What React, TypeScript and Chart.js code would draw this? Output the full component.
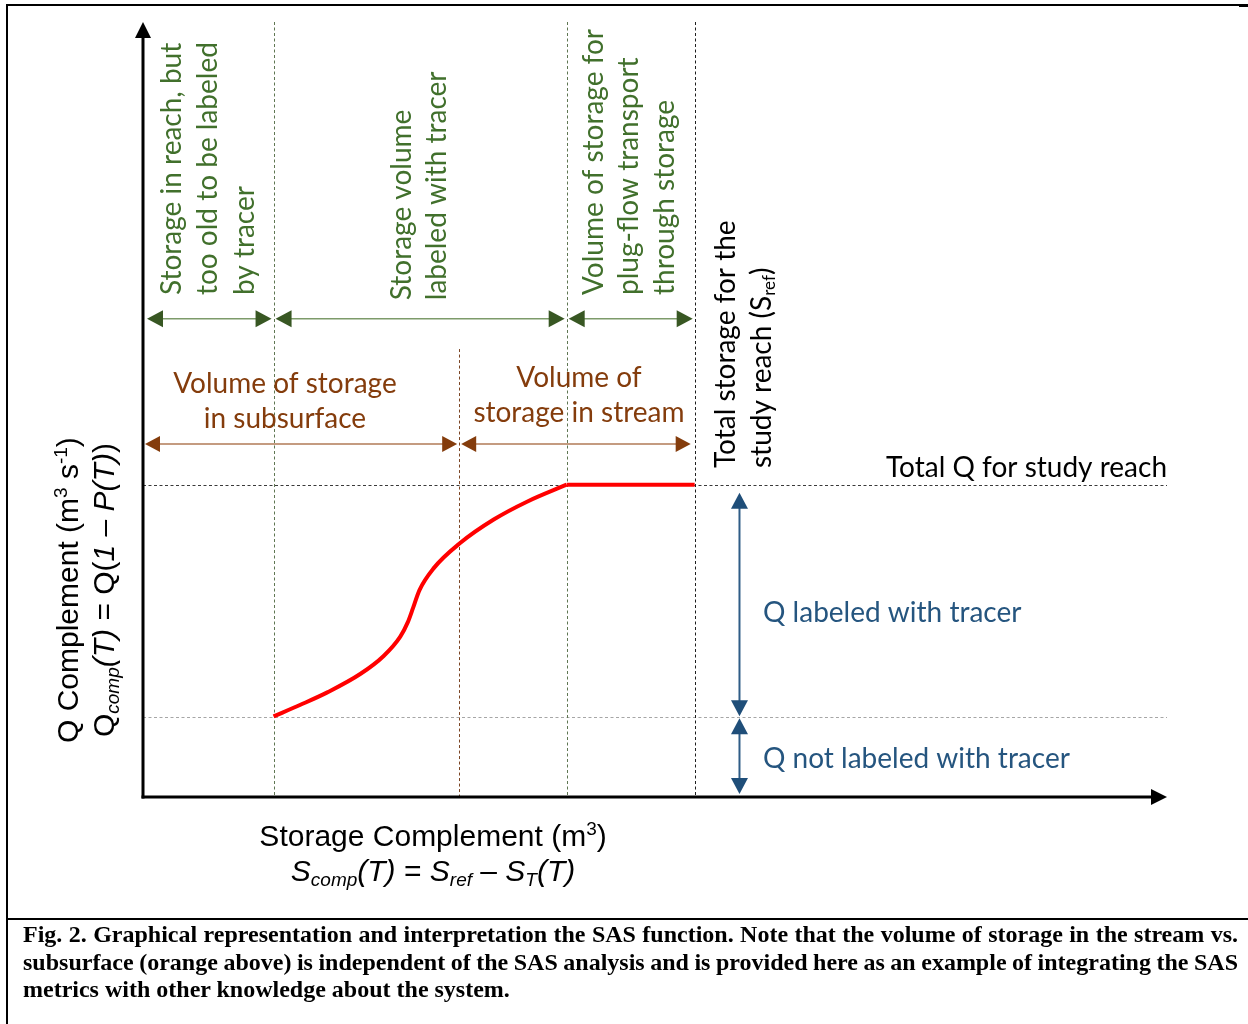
import React, { useEffect, useMemo, useRef } from "react";
import { Chart, registerables } from "chart.js";

Chart.register(...registerables);

// ---------- data ----------
// storage complement (x) and Q complement (y) of the SAS curve, arbitrary units
const curveS = [1.02, 1.23, 1.44, 1.7, 1.88, 2.01, 2.07, 2.11, 2.16, 2.27, 2.48, 2.74, 3.0, 3.31];
const curveQ = [1.04, 1.19, 1.35, 1.59, 1.82, 2.07, 2.26, 2.44, 2.67, 2.95, 3.28, 3.58, 3.81, 4.03];
// plateau of the curve (plug-flow part up to S_ref)
const plateauS = [3.31, 4.31];
const plateauQ = [4.03, 4.03];
// storage boundaries: too-old limit, subsurface/stream split, plug-flow limit, S_ref
const sBounds = [1.02, 2.47, 3.31, 4.31];
// Q levels: not-labeled limit, total Q
const qLevels = [1.03, 4.03];
// axis extents (x, y)
const axisMax = [8, 10];

const oldLabel = ["Storage in reach, but", "too old to be labeled", "by tracer"];
const tracerLabel = ["Storage volume", "labeled with tracer"];
const plugLabel = ["Volume of storage for", "plug-flow transport", "through storage"];
const subsurfaceLabel = ["Volume of storage", "in subsurface"];
const streamLabel = ["Volume of", "storage in stream"];
const srefLabel = ["Total storage for the", "study reach (S", "ref", ")"];
const totalQLabel = "Total Q for study reach";
const qLabeledLabel = "Q labeled with tracer";
const qNotLabeledLabel = "Q not labeled with tracer";
const captionLines = [
  "Fig. 2. Graphical representation and interpretation the SAS function. Note that the volume of storage in the stream vs.",
  "subsurface (orange above) is independent of the SAS analysis and is provided here as an example of integrating the SAS",
  "metrics with other knowledge about the system.",
];

// ---------- drawing helpers ----------
type Seg = { t: string; it?: boolean; sub?: boolean; sup?: boolean };
const SANS = '"Liberation Sans", Arial, sans-serif';
const CAL = 'Lato, "Open Sans", sans-serif';
const SERIF = '"Liberation Serif", "Times New Roman", serif';

function segFont(s: Seg, size: number, fam: string) {
  const sz = s.sub || s.sup ? Math.round(size * 0.62) : size;
  return `${s.it ? "italic " : ""}${sz}px ${fam}`;
}

function drawRich(ctx: CanvasRenderingContext2D, segs: Seg[], x: number, y: number, size: number, fam: string, align: string) {
  let w = 0;
  for (const s of segs) {
    ctx.font = segFont(s, size, fam);
    w += ctx.measureText(s.t).width;
  }
  let cx = align === "center" ? x - w / 2 : align === "right" ? x - w : x;
  ctx.textAlign = "left";
  ctx.textBaseline = "middle";
  for (const s of segs) {
    ctx.font = segFont(s, size, fam);
    const dy = s.sub ? size * 0.27 : s.sup ? -size * 0.27 : 0;
    ctx.fillText(s.t, cx, y + dy);
    cx += ctx.measureText(s.t).width;
  }
}

function drawRotated(ctx: CanvasRenderingContext2D, segs: Seg[], x: number, y: number, size: number, fam: string, align: string) {
  ctx.save();
  ctx.translate(x, y);
  ctx.rotate(-Math.PI / 2);
  drawRich(ctx, segs, 0, 0, size, fam, align);
  ctx.restore();
}

function head(ctx: CanvasRenderingContext2D, tx: number, ty: number, dx: number, dy: number, len: number, hw: number) {
  const bx = tx - dx * len;
  const by = ty - dy * len;
  ctx.beginPath();
  ctx.moveTo(tx, ty);
  ctx.lineTo(bx - dy * hw, by + dx * hw);
  ctx.lineTo(bx + dy * hw, by - dx * hw);
  ctx.closePath();
  ctx.fill();
}

function dblArrow(
  ctx: CanvasRenderingContext2D,
  x1: number, y1: number, x2: number, y2: number,
  headColor: string, lineColor: string, lw: number, len: number, hw: number
) {
  const L = Math.hypot(x2 - x1, y2 - y1);
  const dx = (x2 - x1) / L;
  const dy = (y2 - y1) / L;
  ctx.setLineDash([]);
  ctx.strokeStyle = lineColor;
  ctx.lineWidth = lw;
  ctx.beginPath();
  ctx.moveTo(x1 + dx * len * 0.7, y1 + dy * len * 0.7);
  ctx.lineTo(x2 - dx * len * 0.7, y2 - dy * len * 0.7);
  ctx.stroke();
  ctx.fillStyle = headColor;
  head(ctx, x2, y2, dx, dy, len, hw);
  head(ctx, x1, y1, -dx, -dy, len, hw);
}

function dashed(ctx: CanvasRenderingContext2D, x1: number, y1: number, x2: number, y2: number, color: string) {
  ctx.strokeStyle = color;
  ctx.lineWidth = 1;
  ctx.setLineDash([3, 2.5]);
  ctx.beginPath();
  ctx.moveTo(x1, y1);
  ctx.lineTo(x2, y2);
  ctx.stroke();
}

const diagramPlugin = {
  id: "sasDiagram",
  beforeDatasetsDraw(chart: any) {
    const ctx: CanvasRenderingContext2D = chart.ctx;
    const xs = chart.scales.x;
    const ys = chart.scales.y;
    const X = (v: number) => xs.getPixelForValue(v);
    const Y = (v: number) => ys.getPixelForValue(v);
    const [xMax, yMax] = axisMax;
    ctx.save();
    dashed(ctx, X(0), Math.round(Y(qLevels[1])) + 0.5, X(xMax), Math.round(Y(qLevels[1])) + 0.5, "#3a3a3a");
    dashed(ctx, X(0), Math.round(Y(qLevels[0])) + 0.5, X(xMax), Math.round(Y(qLevels[0])) + 0.5, "#a6a6a6");
    const vColors = ["#5f7652", "#7b4524", "#5f7652", "#1e1e1e"];
    sBounds.forEach((b, i) => {
      const px = Math.round(X(b)) + 0.5;
      const top = i === 1 ? Y(5.78) : Y(yMax);
      dashed(ctx, px, top, px, Y(0), vColors[i]);
    });
    ctx.restore();
  },
  afterDatasetsDraw(chart: any) {
    const ctx: CanvasRenderingContext2D = chart.ctx;
    const xs = chart.scales.x;
    const ys = chart.scales.y;
    const X = (v: number) => xs.getPixelForValue(v);
    const Y = (v: number) => ys.getPixelForValue(v);
    const [xMax, yMax] = axisMax;
    ctx.save();

    // ---- axes with arrowheads ----
    ctx.setLineDash([]);
    ctx.strokeStyle = "#000";
    ctx.fillStyle = "#000";
    ctx.lineWidth = 3;
    ctx.beginPath();
    ctx.moveTo(X(0), Y(0) + 1.5);
    ctx.lineTo(X(0), Y(yMax) + 12);
    ctx.stroke();
    head(ctx, X(0), Y(yMax), 0, -1, 16, 8);
    ctx.beginPath();
    ctx.moveTo(X(0) - 1.5, Y(0));
    ctx.lineTo(X(xMax) - 12, Y(0));
    ctx.stroke();
    head(ctx, X(xMax), Y(0), 1, 0, 16, 8);

    // ---- green storage arrows ----
    const GREEN_H = "#385723";
    const GREEN_L = "#7d9b6a";
    const gy = Y(6.17);
    const greenSegs = [
      [0, sBounds[0]],
      [sBounds[0], sBounds[2]],
      [sBounds[2], sBounds[3]],
    ];
    greenSegs.forEach(([a, b]) => {
      dblArrow(ctx, X(a) + (a === 0 ? 4 : 2), gy, X(b) - 2, gy, GREEN_H, GREEN_L, 1.5, 16, 8.5);
    });

    // ---- brown subsurface/stream arrows ----
    const BROWN = "#843c0c";
    const by = Y(4.555);
    dblArrow(ctx, X(0) + 2, by, X(sBounds[1]) - 2, by, BROWN, "#b07a56", 1.5, 15, 8);
    dblArrow(ctx, X(sBounds[1]) + 2, by, X(sBounds[3]) - 4, by, BROWN, "#b07a56", 1.5, 15, 8);

    // ---- blue Q arrows ----
    const BLUE = "#1f4e79";
    const bx = X(4.66);
    dblArrow(ctx, bx, Y(qLevels[1]) + 8, bx, Y(qLevels[0]) - 1, BLUE, "#2f5d87", 2, 16, 8.5);
    dblArrow(ctx, bx, Y(qLevels[0]) + 1, bx, Y(0) - 3, BLUE, "#2f5d87", 2, 16, 8.5);

    // ---- green rotated labels ----
    ctx.fillStyle = "#41702c";
    const gSize = 28;
    const oldX = [0.227, 0.508, 0.797];
    oldLabel.forEach((l, i) => drawRotated(ctx, [{ t: l }], X(oldX[i]), Y(6.477), gSize, CAL, "left"));
    const trX = [2.02, 2.3];
    tracerLabel.forEach((l, i) => drawRotated(ctx, [{ t: l }], X(trX[i]), Y(6.41), gSize, CAL, "left"));
    const plX = [3.52, 3.8, 4.08];
    plugLabel.forEach((l, i) => drawRotated(ctx, [{ t: l }], X(plX[i]), Y(6.477), gSize, CAL, "left"));

    // ---- black S_ref label ----
    ctx.fillStyle = "#000";
    drawRotated(ctx, [{ t: srefLabel[0] }], X(4.555), Y(4.245), gSize, CAL, "left");
    drawRotated(ctx, [{ t: srefLabel[1] }, { t: srefLabel[2], sub: true }, { t: srefLabel[3] }], X(4.836), Y(4.245), gSize, CAL, "left");

    // ---- brown labels ----
    ctx.fillStyle = BROWN;
    drawRich(ctx, [{ t: subsurfaceLabel[0] }], X(1.109), Y(5.329), gSize, CAL, "center");
    drawRich(ctx, [{ t: subsurfaceLabel[1] }], X(1.109), Y(4.877), gSize, CAL, "center");
    drawRich(ctx, [{ t: streamLabel[0] }], X(3.406), Y(5.406), gSize, CAL, "center");
    drawRich(ctx, [{ t: streamLabel[1] }], X(3.406), Y(4.955), gSize, CAL, "center");

    // ---- total Q ----
    ctx.fillStyle = "#000";
    drawRich(ctx, [{ t: totalQLabel }], X(xMax), Y(4.245), gSize, CAL, "right");

    // ---- blue labels ----
    ctx.fillStyle = "#25557f";
    drawRich(ctx, [{ t: qLabeledLabel }], X(4.844), Y(2.374), gSize, CAL, "left");
    drawRich(ctx, [{ t: qNotLabeledLabel }], X(4.844), Y(0.49), gSize, CAL, "left");

    // ---- axis titles ----
    ctx.fillStyle = "#000";
    const tSize = 30;
    drawRotated(
      ctx,
      [{ t: "Q Complement (m" }, { t: "3", sup: true }, { t: " s" }, { t: "-1", sup: true }, { t: ")" }],
      X(-0.57), Y(2.67), tSize, SANS, "center"
    );
    drawRotated(
      ctx,
      [{ t: "Q" }, { t: "comp", sub: true, it: true }, { t: "(T)", it: true }, { t: " = Q(" }, { t: "1 \u2013 P(T)", it: true }, { t: ")" }],
      X(-0.289), Y(2.67), tSize, SANS, "center"
    );
    drawRich(
      ctx,
      [{ t: "Storage Complement (m" }, { t: "3", sup: true }, { t: ")" }],
      X(2.266), Y(-0.529), tSize, SANS, "center"
    );
    drawRich(
      ctx,
      [
        { t: "S", it: true }, { t: "comp", sub: true, it: true }, { t: "(T)", it: true }, { t: " = " },
        { t: "S", it: true }, { t: "ref", sub: true, it: true }, { t: " \u2013 " },
        { t: "S", it: true }, { t: "T", sub: true, it: true }, { t: "(T)", it: true },
      ],
      X(2.266), Y(-0.98), tSize, SANS, "center"
    );

    ctx.restore();
  },
};

const CAPTION_WIDTH = 1215;

export default function App() {
  const ref = useRef<HTMLCanvasElement>(null);

  // word spacing so that the first caption lines are justified to the full width
  const spacings = useMemo(() => {
    const c = document.createElement("canvas").getContext("2d");
    return captionLines.map((l, i) => {
      if (!c || i === captionLines.length - 1) return 0;
      c.font = `bold 24px ${SERIF}`;
      const w = c.measureText(l).width;
      const n = (l.match(/ /g) || []).length;
      return n ? (CAPTION_WIDTH - w) / n : 0;
    });
  }, []);

  useEffect(() => {
    if (!ref.current) return;
    const common = {
      borderColor: "#ff0000",
      borderWidth: 4,
      pointRadius: 0,
      fill: false,
    };
    const chart = new Chart(ref.current, {
      type: "line",
      data: {
        datasets: [
          {
            ...common,
            label: "SAS curve",
            data: curveS.map((s, i) => ({ x: s, y: curveQ[i] })),
            cubicInterpolationMode: "monotone",
          },
          {
            ...common,
            label: "plateau",
            data: plateauS.map((s, i) => ({ x: s, y: plateauQ[i] })),
          },
        ],
      },
      options: {
        animation: false,
        responsive: false,
        maintainAspectRatio: false,
        layout: { padding: { left: 143, right: 81, top: 22, bottom: 121 } },
        plugins: { legend: { display: false }, tooltip: { enabled: false } },
        scales: {
          x: { type: "linear", min: 0, max: axisMax[0], display: false },
          y: { type: "linear", min: 0, max: axisMax[1], display: false },
        },
      },
      plugins: [diagramPlugin],
    } as any);
    return () => chart.destroy();
  }, []);

  return (
    <div style={{ position: "absolute", left: 0, top: 0, width: 1248, height: 1024, background: "#fff", overflow: "hidden" }}>
      <canvas ref={ref} width={1248} height={918} style={{ position: "absolute", left: 0, top: 0, width: 1248, height: 918 }} />
      <div style={{ position: "absolute", left: 6, top: 4, width: 1242, height: 2, background: "#000" }} />
      <div style={{ position: "absolute", left: 1239, top: 4, width: 9, height: 3, background: "#000" }} />
      <div style={{ position: "absolute", left: 6, top: 4, width: 2, height: 1020, background: "#000" }} />
      <div style={{ position: "absolute", left: 6, top: 918, width: 1242, height: 2, background: "#000" }} />
      <div
        style={{
          position: "absolute",
          left: 23,
          top: 921,
          width: 1300,
          fontFamily: SERIF,
          fontWeight: "bold",
          fontSize: 24,
          lineHeight: "27.5px",
          color: "#000",
        }}
      >
        {captionLines.map((l, i) => (
          <div key={i} style={{ whiteSpace: "nowrap", wordSpacing: `${spacings[i]}px`, height: 27.5 }}>
            {l}
          </div>
        ))}
      </div>
    </div>
  );
}
